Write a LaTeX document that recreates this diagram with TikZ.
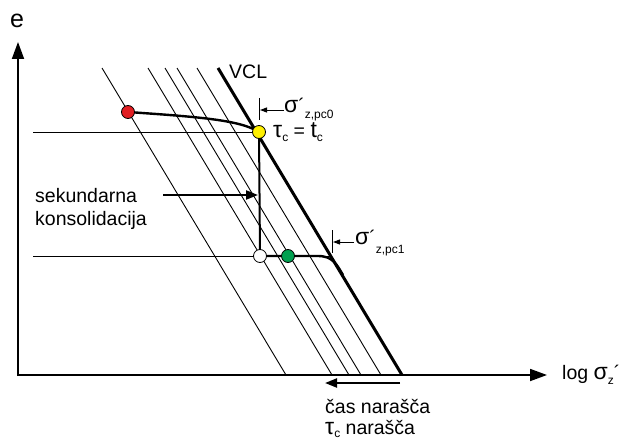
\documentclass[tikz,border=0pt]{standalone}
\usepackage{fontspec}
\setmainfont{Liberation Sans}
\usepackage{xcolor}
\usetikzlibrary{arrows.meta, positioning}

\definecolor{ptred}{RGB}{225,30,35}
\definecolor{ptyellow}{RGB}{255,240,0}
\definecolor{ptgreen}{RGB}{0,160,80}
\newcommand{\lowsub}[2][7pt]{\raisebox{-#1}{\fontsize{12}{12}\selectfont #2}}
\newcommand{\gk}[1]{{\fontsize{23}{23}\selectfont #1}}

\begin{document}
\begin{tikzpicture}[
    x=1pt, y=-1pt,
    font=\fontsize{19.5}{23}\selectfont,
    thinline/.style={line width=0.9pt},
    vcl/.style={line width=3pt},
    spath/.style={line width=2.4pt},
    axis/.style={line width=1.8pt, -{Triangle[length=17pt,width=12pt]}},
    arrow/.style={line width=2.2pt, -{Triangle[length=12pt,width=9pt]}},
    marker/.style={line width=1pt, -{Triangle[length=7pt,width=5pt]}},
    pt/.style={circle, draw, line width=0.8pt, minimum size=13pt, inner sep=0pt},
    lbl/.style={anchor=base west, inner sep=0pt}
]
    \useasboundingbox (0,0) rectangle (620,441);

    % Points on the paths
    \coordinate (o) at (18,375);
    \coordinate (pR) at (128,112);
    \coordinate (pY) at (259,132);
    \coordinate (pW) at (260,256);
    \coordinate (pG) at (288,256);

    % Axes
    \draw[axis] (18,376) -- (18,42);
    \draw[axis] (17,375) -- (547,375);
    \node[lbl, font=\fontsize{25}{25}\selectfont] (e) at (10,28) {e};
    \node[lbl] (logs) at (562,379) {log \gk{σ}\lowsub[5pt]{z}´};

    % Lines of equal time and VCL
    \foreach \xt in {102,148,165,177,197}
        \draw[thinline] (\xt,68) -- ++(184,307);
    \draw[vcl] (218,68) -- (402,375);
    \node[lbl] (vcllbl) at (229,79) {VCL};

    % Horizontal levels
    \draw[thinline] (33,132) -- (pY);
    \draw[thinline] (33,256) -- (332,256);

    % Paths
    \draw[spath] (pR) .. controls (200,117) and (240,120) .. (pY);
    \draw[line width=2pt] (pY) -- (pW);
    \draw[spath] (pW) -- (318,256) .. controls (333,256) and (337,265) .. (343,275);

    % Preconsolidation markers
    \draw[line width=1pt] (259,98) -- (259,120);
    \coordinate (m0) at (284,110);
    \draw[marker] (m0) -- (260,110);
    \node[lbl] (spc0) at (284,112) {\gk{σ}´\lowsub[6pt]{z,pc0}};
    \node[lbl] (tau) at (273,137) {\gk{τ}\lowsub[4pt]{c} = \gk{t}\lowsub[4pt]{c}};

    \draw[line width=1pt] (332,230) -- (332,253);
    \coordinate (m1) at (354,242);
    \draw[marker] (m1) -- (333,242);
    \node[lbl] (spc1) at (355,244) {\gk{σ}´\lowsub[9pt]{z,pc1}};

    % Secondary consolidation
    \node[lbl] (sek) at (35,202) {sekundarna};
    \node[lbl] (kons) at (35,225) {konsolidacija};
    \coordinate (sa) at (163,195);
    \draw[arrow] (sa) -- (258,195);

    % Time increases
    \coordinate (ta) at (400,383);
    \draw[arrow] (ta) -- (325,383);
    \node[lbl] (cas) at (325,413) {čas narašča};
    \node[lbl] (tauc) at (325,434) {\gk{τ}\lowsub[3pt]{c} narašča};

    % Points
    \node[pt, fill=ptred] (red) at (pR) {};
    \node[pt, fill=ptyellow] (yellow) at (pY) {};
    \node[pt, fill=white] (white) at (pW) {};
    \node[pt, fill=ptgreen] (green) at (pG) {};
\end{tikzpicture}
\end{document}
